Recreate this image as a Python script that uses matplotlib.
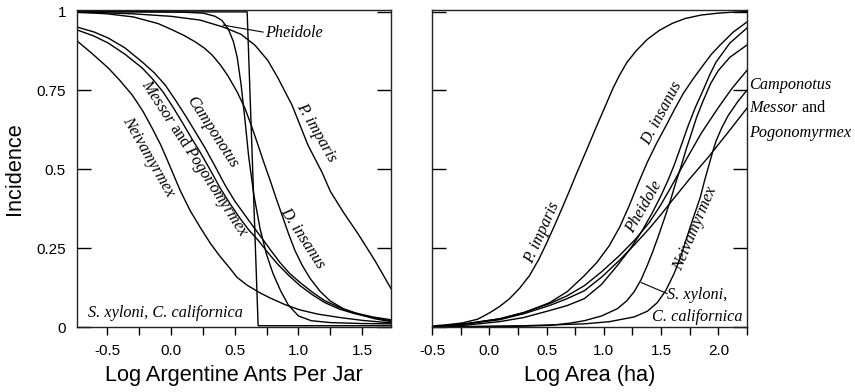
import matplotlib
matplotlib.use("Agg")
import matplotlib.pyplot as plt
from matplotlib.ticker import MultipleLocator, FixedLocator

plt.rcParams['font.family'] = ['Liberation Sans', 'DejaVu Sans']
plt.rcParams['axes.unicode_minus'] = False
plt.rcParams['mathtext.fontset'] = 'custom'
plt.rcParams['mathtext.it'] = 'Liberation Serif:italic'
plt.rcParams['mathtext.rm'] = 'Liberation Serif'

# Left panel: incidence vs log Argentine ants per jar
jar_xyloni_x = [-0.735, 0.598, 0.684, 1.725]
jar_xyloni_y = [0.999, 0.999, 0.004, 0.004]

jar_pheidole_x = [-0.735, -0.3, 0.1, 0.254, 0.347, 0.40, 0.45, 0.49, 0.52, 0.55, 0.58, 0.61, 0.65, 0.70,
                  0.75, 0.80, 0.86, 0.92, 1.0, 1.1, 1.25, 1.5, 1.725]
jar_pheidole_y = [1.0, 1.0, 0.998, 0.995, 0.985, 0.972, 0.945, 0.905, 0.855, 0.77, 0.66, 0.54, 0.42, 0.31,
                  0.23, 0.17, 0.115, 0.07, 0.035, 0.02, 0.014, 0.011, 0.01]

jar_imparis_x = [-0.735, -0.3, 0.0, 0.23, 0.41, 0.55, 0.66, 0.76, 0.84, 0.95, 1.075, 1.185, 1.25, 1.35,
                 1.466, 1.6, 1.725]
jar_imparis_y = [0.999, 0.993, 0.985, 0.973, 0.951, 0.928, 0.893, 0.845, 0.789, 0.703, 0.576, 0.49, 0.43,
                 0.365, 0.296, 0.21, 0.122]

jar_insanus_x = [-0.735, -0.5, -0.294, -0.1, -0.005, 0.1, 0.191, 0.26, 0.324, 0.39, 0.449, 0.52, 0.582,
                 0.634, 0.684, 0.73, 0.778, 0.825, 0.872, 0.92, 0.973, 1.03, 1.091, 1.17, 1.247, 1.36,
                 1.482, 1.6, 1.725]
jar_insanus_y = [0.998, 0.993, 0.983, 0.962, 0.945, 0.925, 0.904, 0.885, 0.862, 0.83, 0.795, 0.745, 0.692,
                 0.635, 0.576, 0.52, 0.465, 0.408, 0.354, 0.298, 0.242, 0.195, 0.154, 0.113, 0.083, 0.056,
                 0.039, 0.026, 0.017]

jar_campo_x = [-0.735, -0.6, -0.49, -0.36, -0.224, -0.13, -0.044, 0.035, 0.113, 0.19, 0.269, 0.35, 0.426,
               0.5, 0.582, 0.65, 0.715, 0.785, 0.856, 0.93, 1.013, 1.11, 1.208, 1.32, 1.443, 1.58, 1.725]
jar_campo_y = [0.951, 0.935, 0.916, 0.885, 0.840, 0.806, 0.767, 0.72, 0.671, 0.62, 0.567, 0.507, 0.449,
               0.40, 0.354, 0.316, 0.281, 0.242, 0.204, 0.17, 0.141, 0.11, 0.083, 0.062, 0.045, 0.032, 0.023]

jar_messor_x = [-0.735, -0.6, -0.49, -0.36, -0.224, -0.14, -0.059, 0.015, 0.089, 0.16, 0.23, 0.31, 0.387,
                0.465, 0.543, 0.61, 0.684, 0.76, 0.84, 0.925, 1.013, 1.11, 1.208, 1.32, 1.443, 1.58, 1.725]
jar_messor_y = [0.942, 0.922, 0.900, 0.865, 0.821, 0.785, 0.744, 0.698, 0.649, 0.60, 0.554, 0.497, 0.440,
                0.39, 0.344, 0.308, 0.275, 0.236, 0.198, 0.163, 0.131, 0.102, 0.077, 0.057, 0.042, 0.03, 0.02]

jar_neiva_x = [-0.735, -0.62, -0.49, -0.4, -0.302, -0.22, -0.146, -0.08, -0.02, 0.073, 0.15, 0.23, 0.31,
               0.387, 0.455, 0.52, 0.6, 0.7, 0.778, 0.9, 1.013, 1.15, 1.325, 1.5, 1.725]
jar_neiva_y = [0.907, 0.868, 0.821, 0.782, 0.735, 0.685, 0.630, 0.578, 0.522, 0.433, 0.37, 0.316, 0.265,
               0.223, 0.19, 0.157, 0.132, 0.108, 0.092, 0.07, 0.054, 0.041, 0.030, 0.021, 0.013]

# Right panel: incidence vs log area
area_imparis_x = [-0.5, -0.35, -0.233, -0.1, 0.003, 0.09, 0.177, 0.265, 0.351, 0.43, 0.499, 0.57, 0.639,
                  0.70, 0.76, 0.848, 0.935, 1.022, 1.08, 1.135, 1.2, 1.283, 1.38, 1.483, 1.6, 1.71, 1.85,
                  1.997, 2.12, 2.25]
area_imparis_y = [0.003, 0.008, 0.013, 0.025, 0.045, 0.065, 0.090, 0.123, 0.163, 0.213, 0.265, 0.322, 0.38,
                  0.432, 0.485, 0.56, 0.635, 0.708, 0.757, 0.797, 0.838, 0.876, 0.912, 0.94, 0.963, 0.978,
                  0.989, 0.995, 0.998, 1.0]

area_insanus_x = [-0.5, -0.2, 0.09, 0.3, 0.525, 0.68, 0.83, 0.94, 1.048, 1.14, 1.222, 1.30, 1.379, 1.46,
                  1.553, 1.62, 1.693, 1.78, 1.867, 1.94, 2.015, 2.13, 2.25]
area_insanus_y = [0.0, 0.01, 0.026, 0.045, 0.077, 0.112, 0.163, 0.205, 0.258, 0.318, 0.385, 0.455, 0.522,
                  0.582, 0.645, 0.692, 0.74, 0.787, 0.83, 0.865, 0.894, 0.935, 0.967]

area_pheidole_x = [-0.5, -0.2, 0.09, 0.3, 0.525, 0.68, 0.83, 0.98, 1.118, 1.225, 1.326, 1.42, 1.5, 1.56,
                   1.614, 1.68, 1.736, 1.80, 1.867, 1.925, 1.98, 2.1, 2.25]
area_pheidole_y = [0.0, 0.006, 0.017, 0.03, 0.052, 0.068, 0.09, 0.135, 0.195, 0.245, 0.300, 0.36, 0.417,
                   0.465, 0.513, 0.58, 0.638, 0.697, 0.751, 0.80, 0.84, 0.9, 0.948]

area_xyloni_x = [-0.5, 0.2, 0.525, 0.7, 0.83, 0.98, 1.118, 1.2, 1.265, 1.325, 1.379, 1.425, 1.466, 1.53,
                 1.587, 1.63, 1.675, 1.72, 1.754, 1.81, 1.867, 1.93, 1.997, 2.1, 2.25]
area_xyloni_y = [0.0, 0.002, 0.005, 0.012, 0.020, 0.035, 0.058, 0.083, 0.112, 0.15, 0.195, 0.237, 0.278,
                 0.345, 0.408, 0.46, 0.51, 0.565, 0.602, 0.665, 0.717, 0.77, 0.812, 0.855, 0.894]

area_neiva_x = [-0.5, 0.3, 0.83, 1.05, 1.265, 1.38, 1.466, 1.54, 1.614, 1.67, 1.719, 1.78, 1.841, 1.88,
                1.911, 1.95, 1.98, 2.03, 2.085, 2.17, 2.25]
area_neiva_y = [0.0, 0.004, 0.010, 0.017, 0.032, 0.05, 0.077, 0.115, 0.17, 0.222, 0.278, 0.345, 0.41, 0.465,
                0.505, 0.555, 0.59, 0.632, 0.67, 0.715, 0.751]

area_campo_x = [-0.5, -0.2, 0.09, 0.3, 0.525, 0.68, 0.83, 0.98, 1.135, 1.27, 1.396, 1.49, 1.57, 1.71, 1.85,
                2.0, 2.12, 2.25]
area_campo_y = [0.0, 0.011, 0.026, 0.046, 0.074, 0.099, 0.131, 0.175, 0.226, 0.276, 0.331, 0.383, 0.433,
                0.525, 0.614, 0.696, 0.757, 0.814]

area_messor_x = [-0.5, -0.2, 0.09, 0.3, 0.525, 0.68, 0.83, 0.98, 1.135, 1.27, 1.396, 1.5, 1.596, 1.75,
                 1.911, 2.08, 2.25]
area_messor_y = [0.0, 0.01, 0.023, 0.042, 0.068, 0.09, 0.115, 0.158, 0.211, 0.262, 0.312, 0.357, 0.401,
                 0.47, 0.538, 0.615, 0.694]

yticks = [0, 0.25, 0.5, 0.75, 1]
ytick_labels = ["0", "0.25", "0.5", "0.75", "1"]
jar_xticks = [-0.5, 0.0, 0.5, 1.0, 1.5]
area_xticks = [-0.5, 0.0, 0.5, 1.0, 1.5, 2.0]

fig = plt.figure(figsize=(8.55, 3.92), dpi=100)
ax1 = fig.add_axes([0.0901, 0.1658, 0.3672, 0.8087])
ax2 = fig.add_axes([0.5053, 0.1658, 0.3684, 0.8087])

lw = 1.0
for xs, ys in [(jar_xyloni_x, jar_xyloni_y), (jar_pheidole_x, jar_pheidole_y),
               (jar_imparis_x, jar_imparis_y), (jar_insanus_x, jar_insanus_y),
               (jar_campo_x, jar_campo_y), (jar_messor_x, jar_messor_y),
               (jar_neiva_x, jar_neiva_y)]:
    ax1.plot(xs, ys, color="black", lw=lw, solid_joinstyle="round")

for xs, ys in [(area_imparis_x, area_imparis_y), (area_insanus_x, area_insanus_y),
               (area_pheidole_x, area_pheidole_y), (area_xyloni_x, area_xyloni_y),
               (area_neiva_x, area_neiva_y), (area_campo_x, area_campo_y),
               (area_messor_x, area_messor_y)]:
    ax2.plot(xs, ys, color="black", lw=lw, solid_joinstyle="round")

for ax in (ax1, ax2):
    ax.set_ylim(0, 1.005)
    ax.set_yticks(yticks)
    ax.tick_params(axis="y", direction="in", length=10, width=1, left=True, right=True, labelsize=11, pad=8)
    ax.tick_params(axis="x", which="both", direction="out", length=6, width=1, labelsize=11, pad=6)
    for s in ax.spines.values():
        s.set_linewidth(1)
        s.set_color("#222222")

ax1.set_xlim(-0.735, 1.725)
ax1.set_xticks(jar_xticks)
ax1.set_xticklabels(["%.1f" % t for t in jar_xticks])
ax1.xaxis.set_minor_locator(MultipleLocator(0.25))
ax1.set_yticklabels(ytick_labels)
ax1.set_ylabel("Incidence", fontsize=15.7, labelpad=8)
ax1.set_xlabel("Log Argentine Ants Per Jar", fontsize=15.7, labelpad=5)

ax2.set_xlim(-0.5, 2.25)
ax2.set_xticks(area_xticks)
ax2.set_xticklabels(["%.1f" % t for t in area_xticks])
ax2.xaxis.set_minor_locator(FixedLocator([-0.25, 0.25, 0.75, 1.25, 1.75, 2.25]))
ax2.tick_params(axis="y", labelleft=False)
ax2.set_xlabel("Log Area (ha)", fontsize=15.7, labelpad=5)

fs = 11.7
lab = dict(family="Liberation Serif", style="italic", fontsize=fs)

# left panel labels
ax1.text(0.739, 0.932, "Pheidole", ha="left", va="center", **lab)
ax1.plot([0.410, 0.723], [0.957, 0.935], color="black", lw=0.8)
ax1.text(1.138, 0.617, "P. imparis", rotation=-60, ha="center", va="center", rotation_mode="anchor", **lab)
ax1.text(0.325, 0.617, "Camponotus", rotation=-57, ha="center", va="center", rotation_mode="anchor", **lab)
ax1.text(0.184, 0.535, "$\\mathit{Messor}$ and $\\mathit{Pogonomyrmex}$", rotation=-57, ha="center", va="center",
         rotation_mode="anchor", family="Liberation Serif", fontsize=fs)
ax1.text(-0.176, 0.538, "Neivamyrmex", rotation=-60, ha="center", va="center", rotation_mode="anchor", **lab)
ax1.text(1.028, 0.281, "D. insanus", rotation=-57, ha="center", va="center", rotation_mode="anchor", **lab)
ax1.text(-0.647, 0.045, "S. xyloni, C. californica", ha="left", va="center", **lab)

# right panel labels
ax2.text(0.464, 0.300, "P. imparis", rotation=66, ha="center", va="center", rotation_mode="anchor", **lab)
ax2.text(1.51, 0.678, "D. insanus", rotation=62, ha="center", va="center", rotation_mode="anchor", **lab)
ax2.text(1.353, 0.382, "Pheidole", rotation=60, ha="center", va="center", rotation_mode="anchor", **lab)
ax2.text(1.80, 0.312, "Neivamyrmex", rotation=67, ha="center", va="center", rotation_mode="anchor", **lab)
ax2.text(1.553, 0.100, "S. xyloni,", ha="left", va="center", **lab)
ax2.text(2.207, 0.033, "C. californica", ha="right", va="center", **lab)
ax2.plot([1.326, 1.553], [0.141, 0.106], color="black", lw=0.8)
ax2.text(2.267, 0.767, "Camponotus", ha="left", va="center", clip_on=False, **lab)
ax2.text(2.267, 0.694, "$\\mathit{Messor}$ and", ha="left", va="center", clip_on=False,
         family="Liberation Serif", fontsize=fs)
ax2.text(2.267, 0.614, "Pogonomyrmex", ha="left", va="center", clip_on=False, **lab)

fig.savefig("out.png", dpi=100)
